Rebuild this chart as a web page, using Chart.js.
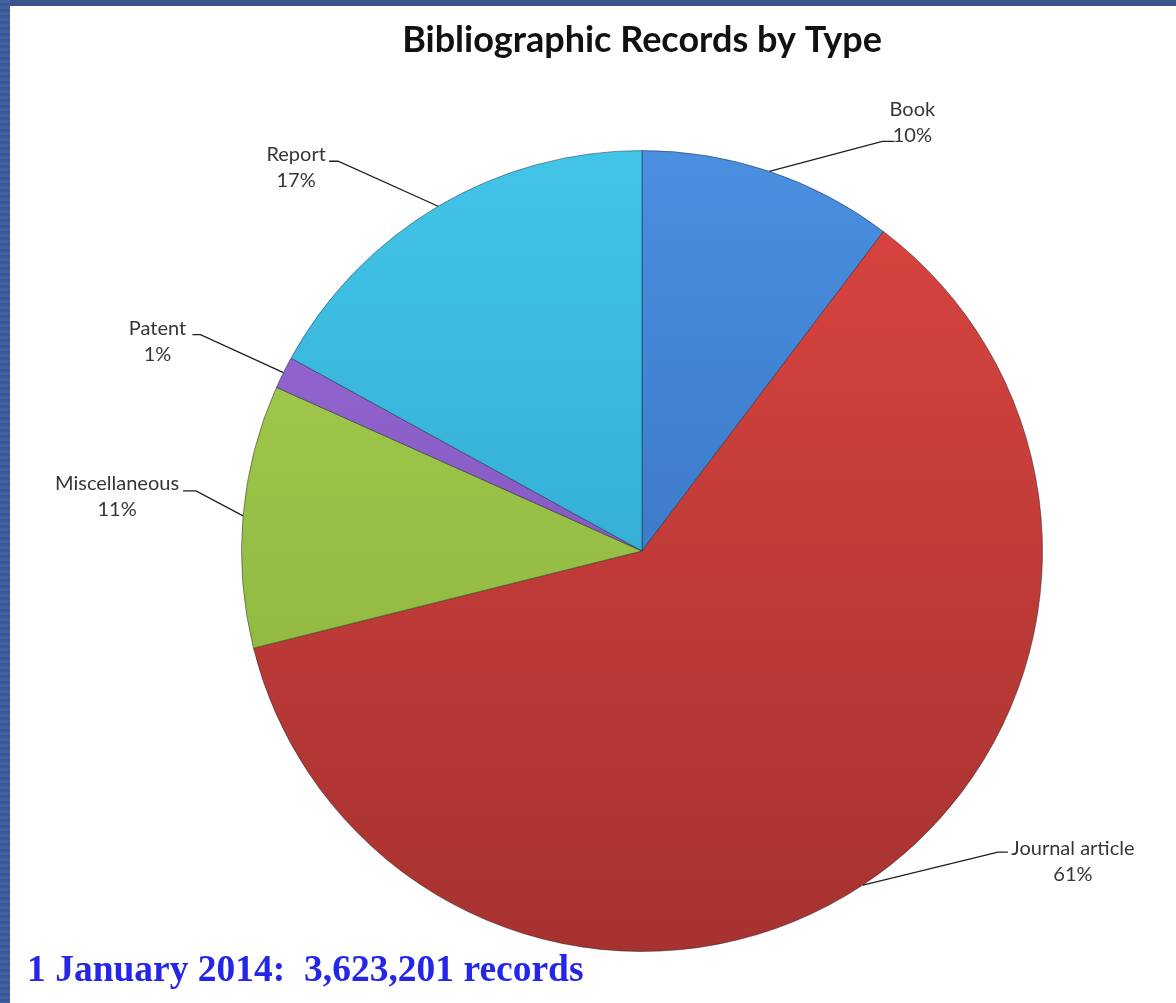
<!DOCTYPE html>
<html>
<head>
<meta charset="utf-8">
<title>Bibliographic Records by Type</title>
<script src="https://cdn.jsdelivr.net/npm/chart.js@4.4.1/dist/chart.umd.min.js"></script>
<style>
    html, body {
        margin: 0;
        padding: 0;
        width: 1176px;
        height: 1003px;
        overflow: hidden;
        background: #3a5490;
    }
    .left-band {
        position: absolute;
        left: 0;
        top: 0;
        width: 10px;
        height: 1003px;
        background: repeating-linear-gradient(to bottom, #4262a2 0px, #4262a2 3px, #3a5796 3px, #3a5796 6px);
    }
    .panel {
        position: absolute;
        left: 10px;
        top: 6px;
        width: 1166px;
        height: 997px;
        background: #ffffff;
    }
    .footer-note {
        position: absolute;
        left: 17px;
        top: 941px;
        font-family: "Liberation Serif", "Times New Roman", serif;
        font-weight: bold;
        font-size: 37.5px;
        color: #2626e6;
        white-space: pre;
    }
</style>
</head>
<body>
<div class="left-band"></div>
<div class="panel">
    <canvas id="recordsByTypeChart" width="1166" height="997"></canvas>
    <div class="footer-note">1 January 2014:  3,623,201 records</div>
</div>
<script>
// Data (share of records, %)
const recordTypes = ['Book', 'Journal article', 'Miscellaneous', 'Patent', 'Report'];
const recordShares = [10.3, 60.8, 10.6, 1.3, 17.0];

// Slice shading: light at the top of the pie, darker towards the bottom
const sliceTopColors = ['#4a8fe0', '#dc4541', '#a8d053', '#9a6fd6', '#42c4e8'];
const sliceBottomColors = ['#2f68b4', '#a6322f', '#86ad36', '#7446b0', '#2a9bc4'];

// Where each label sits, relative to the point where its leader line leaves the slice
const labelLayout = [
    { knee: [113, -30], tail: 125, text: [143, -62] },
    { knee: [135, -33], tail: 145, text: [210, -37] },
    { knee: [-47, -25], tail: -60, text: [-126, -32] },
    { knee: [-83, -38], tail: -91, text: [-126, -44] },
    { knee: [-100, -45], tail: -109, text: [-142, -52] }
];

const chartTitle = 'Bibliographic Records by Type';

class RecordsPieChart {
    constructor(canvasId) {
        this.canvas = document.getElementById(canvasId);
        this.gradients = {};
        this.render();
    }

    sliceFill(context) {
        const chart = context.chart;
        const area = chart.chartArea;
        const i = context.dataIndex;
        if (!area) return sliceTopColors[i];
        const key = i + ':' + area.top + ':' + area.bottom;
        if (!this.gradients[key]) {
            const g = chart.ctx.createLinearGradient(0, area.top, 0, area.bottom);
            g.addColorStop(0, sliceTopColors[i]);
            g.addColorStop(1, sliceBottomColors[i]);
            this.gradients[key] = g;
        }
        return this.gradients[key];
    }

    titlePlugin() {
        return {
            id: 'chartTitle',
            afterDraw(chart) {
                const ctx = chart.ctx;
                const area = chart.chartArea;
                ctx.save();
                ctx.font = 'bold 36px Lato, "Noto Sans", sans-serif';
                ctx.fillStyle = '#111111';
                ctx.textAlign = 'center';
                ctx.textBaseline = 'middle';
                ctx.fillText(chartTitle, (area.left + area.right) / 2, 34);
                ctx.restore();
            }
        };
    }

    leaderLabelPlugin() {
        return {
            id: 'leaderLabels',
            afterDatasetsDraw(chart) {
                const ctx = chart.ctx;
                const meta = chart.getDatasetMeta(0);
                const values = chart.data.datasets[0].data;
                const total = values.reduce((a, b) => a + b, 0);
                ctx.save();
                meta.data.forEach((arc, i) => {
                    const p = arc.getProps(['x', 'y', 'startAngle', 'endAngle', 'outerRadius'], true);
                    const mid = (p.startAngle + p.endAngle) / 2;
                    const ax = p.x + Math.cos(mid) * p.outerRadius;
                    const ay = p.y + Math.sin(mid) * p.outerRadius;
                    const lay = labelLayout[i];
                    const kx = ax + lay.knee[0];
                    const ky = ay + lay.knee[1];

                    ctx.strokeStyle = '#1e1e1e';
                    ctx.lineWidth = 1.3;
                    ctx.beginPath();
                    ctx.moveTo(ax, ay);
                    ctx.lineTo(kx, ky);
                    ctx.lineTo(ax + lay.tail, ky);
                    ctx.stroke();

                    const pct = Math.round(values[i] / total * 100) + '%';
                    ctx.fillStyle = '#363636';
                    ctx.font = '20px Lato, "Noto Sans", sans-serif';
                    ctx.textAlign = 'center';
                    ctx.textBaseline = 'middle';
                    ctx.fillText(chart.data.labels[i], ax + lay.text[0], ay + lay.text[1]);
                    ctx.fillText(pct, ax + lay.text[0], ay + lay.text[1] + 26);
                });
                ctx.restore();
            }
        };
    }

    render() {
        if (window.recordsChart) {
            window.recordsChart.destroy();
        }
        window.recordsChart = new Chart(this.canvas.getContext('2d'), {
            type: 'pie',
            data: {
                labels: recordTypes,
                datasets: [{
                    data: recordShares,
                    backgroundColor: (c) => this.sliceFill(c),
                    borderColor: 'rgba(20, 30, 40, 0.45)',
                    borderWidth: 1
                }]
            },
            options: {
                responsive: false,
                animation: false,
                layout: {
                    padding: { left: 231, right: 133, top: 144, bottom: 51 }
                },
                plugins: {
                    legend: { display: false },
                    title: { display: false },
                    tooltip: { enabled: false }
                }
            },
            plugins: [this.titlePlugin(), this.leaderLabelPlugin()]
        });
    }
}

document.addEventListener('DOMContentLoaded', () => {
    new RecordsPieChart('recordsByTypeChart');
});
</script>
</body>
</html>
